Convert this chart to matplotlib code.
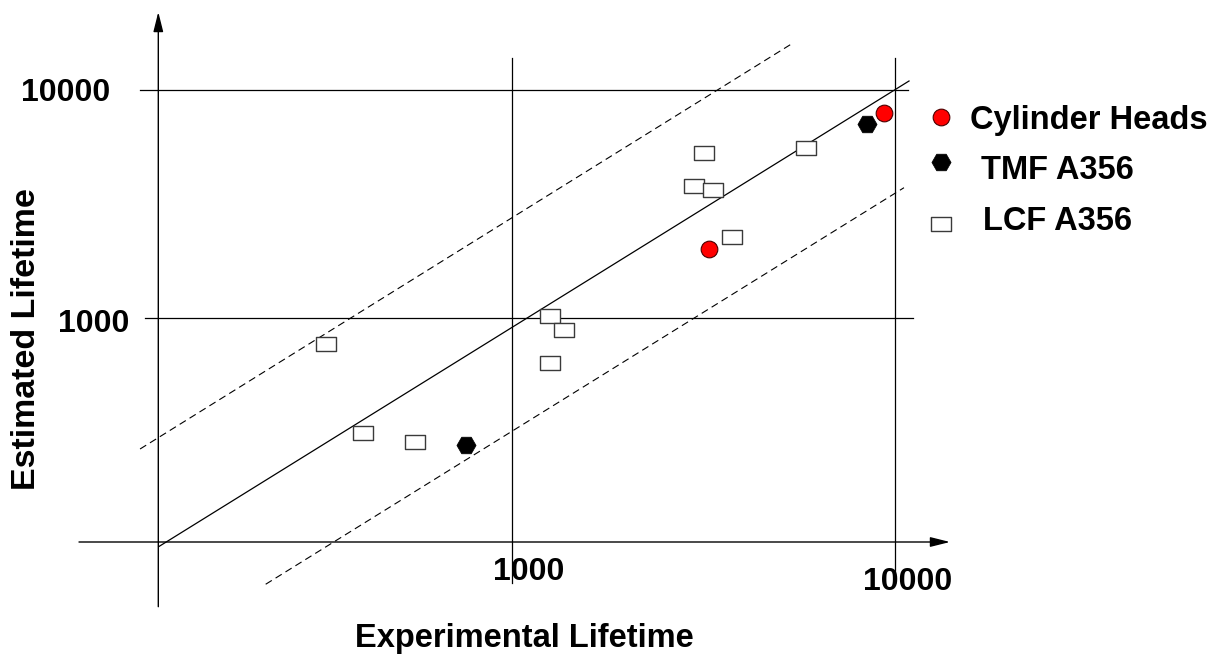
import matplotlib
matplotlib.use('Agg')
import matplotlib.pyplot as plt
from matplotlib.path import Path

plt.rcParams['font.family'] = ['Liberation Sans', 'DejaVu Sans']
plt.rcParams['font.weight'] = 'bold'

# values (log-log)
heads_x = [3269, 9393]
heads_y = [2018, 7907]
tmf_x = [757, 8450]
tmf_y = [278, 7083]
lcf_x = [326, 408, 556, 1253, 1363, 1253, 3168, 2990, 3348, 5861, 3750]
lcf_y = [770, 315, 287, 1021, 889, 639, 5297, 3809, 3637, 5555, 2271]

# reference line and the two scatter bands, as drawn
fit_x = [119, 10900]
fit_y = [100, 10950]
upper_x = [106.3, 5355]
upper_y = [267.6, 15860]
lower_x = [226.5, 10575]
lower_y = [68.4, 3733]

legend_labels = ["Cylinder Heads", "TMF A356", "LCF A356"]

W, H = 1222, 654
fig = plt.figure(figsize=(W / 100, H / 100), dpi=100, facecolor='white')
ax = fig.add_axes([0, 0, 1, 1])
ax.set_xscale('log')
ax.set_yscale('log')
# pixel position of the 1000 grid lines and pixels per decade
x3, xdec = 512.3, 382.4
y3, ydec = 318.3, 228.3
ax.set_xlim(10 ** (3 - x3 / xdec), 10 ** (3 + (W - x3) / xdec))
ax.set_ylim(10 ** (3 - (H - y3) / ydec), 10 ** (3 + y3 / ydec))
ax.axis('off')


def fx(px):
    return 10 ** (3 + (px - x3) / xdec)


def fy(py):
    return 10 ** (3 + (y3 - py) / ydec)


def fig_xy(px, py):
    return px / W, 1 - py / H


# axes drawn as arrows
arrow = dict(arrowstyle='-|>,head_length=1.2,head_width=0.3', color='k', lw=1,
             shrinkA=0, shrinkB=0, mutation_scale=10)
x0, y0 = fx(158.3), fy(542)
ax.annotate('', xy=(fx(950), y0), xytext=(fx(79), y0), arrowprops=arrow)
ax.annotate('', xy=(x0, fy(12)), xytext=(x0, fy(606.7)), arrowprops=arrow)

# grid lines at 1000 and 10000
ax.plot([fx(140), fx(908)], [10000, 10000], color='k', lw=0.9)
ax.plot([fx(145), fx(913)], [1000, 1000], color='k', lw=0.9)
for gx in [1000, 10000]:
    ax.plot([gx, gx], [fy(583), fy(57.7)], color='k', lw=0.9)

ax.plot(fit_x, fit_y, color='k', lw=0.9)
ax.plot(upper_x, upper_y, color='k', lw=0.8, ls=(0, (6.5, 4)))
ax.plot(lower_x, lower_y, color='k', lw=0.8, ls=(0, (6.5, 4)))

rect = Path([(-1, -0.72), (1, -0.72), (1, 0.72), (-1, 0.72), (-1, -0.72)],
            [Path.MOVETO, Path.LINETO, Path.LINETO, Path.LINETO, Path.CLOSEPOLY])
lcf_style = dict(ls='none', marker=rect, ms=13.7, mfc='white', mec='#3a3a3a', mew=1.0)
heads_style = dict(ls='none', marker='o', ms=12, mfc='#ff0000', mec='#4a0000', mew=0.8)
tmf_style = dict(ls='none', marker='H', ms=13.8, mfc='black', mec='black', mew=0.5)

ax.plot(lcf_x, lcf_y, zorder=3, **lcf_style)
ax.plot(tmf_x, tmf_y, zorder=4, **tmf_style)
ax.plot(heads_x, heads_y, zorder=5, **heads_style)

# legend, drawn by hand
leg_y = [117, 162, 224.3]
text_pos = [(970, 128.5), (981, 179), (983, 230)]
for style, my, lab, (tx, ty) in zip([heads_style, tmf_style, lcf_style], leg_y,
                                     legend_labels, text_pos):
    mx_, my_ = fig_xy(941, my)
    ax.plot([mx_], [my_], transform=fig.transFigure, clip_on=False, **style)
    fx_, fy_ = fig_xy(tx, ty)
    fig.text(fx_, fy_, lab, fontsize=23.5, fontweight='bold', va='baseline', ha='left')

# tick labels
tick_fs = 23
for lab, px, py, ha in [("10000", 110, 100.7, 'right'), ("1000", 129, 331.7, 'right'),
                        ("1000", 529, 580, 'center'), ("10000", 907.5, 590, 'center')]:
    tx, ty = fig_xy(px, py)
    fig.text(tx, ty, lab, fontsize=tick_fs, fontweight='bold', ha=ha, va='baseline')

tx, ty = fig_xy(524, 646.5)
fig.text(tx, ty, "Experimental Lifetime", fontsize=23.5, fontweight='bold',
         ha='center', va='baseline')
tx, ty = fig_xy(35, 339)
fig.text(tx, ty, "Estimated Lifetime", fontsize=24.5, fontweight='bold', rotation=90,
         rotation_mode='anchor', ha='center', va='baseline')

plt.savefig('out.png', dpi=100, facecolor='white')
